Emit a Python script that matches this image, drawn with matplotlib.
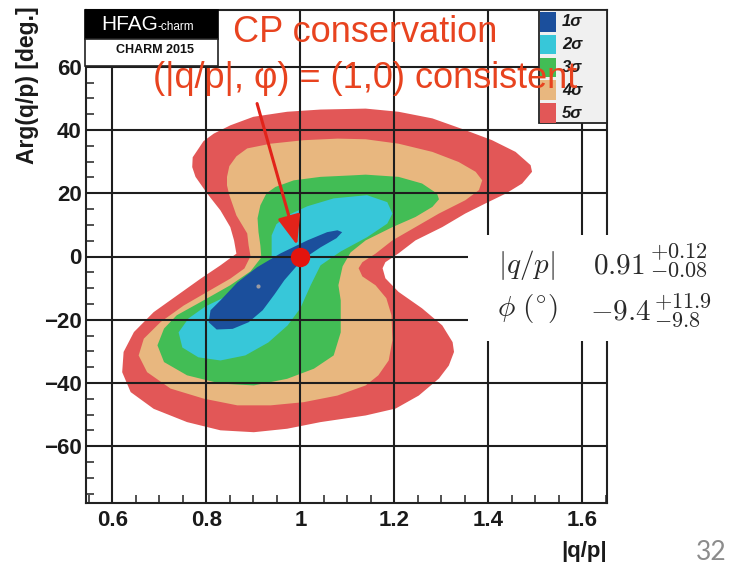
import matplotlib
matplotlib.use("Agg")
import matplotlib.pyplot as plt
from matplotlib.patches import Rectangle
from matplotlib.ticker import MultipleLocator

plt.rcParams["mathtext.fontset"] = "cm"

# Confidence-region outlines in the (|q/p|, Arg(q/p) [deg.]) plane
sig5_x = [0.770, 0.771, 0.781, 0.794, 0.816, 0.851, 0.900, 0.972, 1.043, 1.139,
          1.209, 1.281, 1.351, 1.408, 1.458, 1.490, 1.493, 1.472, 1.437, 1.394,
          1.351, 1.302, 1.245, 1.209, 1.181, 1.175, 1.181, 1.209, 1.259, 1.302,
          1.324, 1.327, 1.316, 1.295, 1.252, 1.203, 1.139, 1.043, 0.972, 0.901,
          0.830, 0.759, 0.688, 0.639, 0.621, 0.624, 0.646, 0.688, 0.738, 0.788,
          0.830, 0.864, 0.859, 0.851, 0.830, 0.802, 0.777]
sig5_y = [28.3, 31.4, 33.6, 36.5, 38.9, 41.5, 44.2, 45.8, 46.5, 46.8,
          45.8, 43.7, 40.0, 36.8, 33.1, 28.9, 26.8, 23.1, 19.9, 16.8,
          13.6, 9.3, 5.1, 1.0, -1.8, -3.7, -6.9, -11.2, -16.4, -21.8,
          -27.1, -30.2, -34.5, -38.6, -44.0, -48.1, -50.3, -52.4, -54.5, -55.6,
          -55.0, -52.4, -48.2, -42.9, -36.6, -30.2, -23.9, -17.6, -12.3, -7.0,
          -2.8, 0.9, 5.1, 9.3, 14.6, 19.9, 25.2]

sig4_x = [0.844, 0.849, 0.864, 0.887, 0.937, 1.007, 1.079, 1.139, 1.209, 1.281,
          1.337, 1.373, 1.387, 1.380, 1.351, 1.295, 1.245, 1.196, 1.160, 1.132,
          1.124, 1.132, 1.160, 1.183, 1.194, 1.196, 1.188, 1.166, 1.139, 1.079,
          1.007, 0.937, 0.866, 0.795, 0.724, 0.674, 0.656, 0.667, 0.703, 0.752,
          0.802, 0.851, 0.881, 0.894, 0.890, 0.887, 0.864, 0.849, 0.844]
sig4_y = [25.2, 28.6, 31.7, 34.2, 35.7, 36.8, 37.3, 37.1, 35.7, 33.1,
          29.9, 26.8, 24.1, 21.0, 17.8, 13.6, 9.3, 5.1, 0.9, -1.8,
          -3.7, -6.3, -9.1, -13.2, -18.6, -26.5, -32.9, -37.6, -40.8, -44.0,
          -46.1, -47.1, -47.1, -45.0, -41.8, -36.6, -31.3, -26.0, -20.7, -15.5,
          -11.2, -7.0, -3.8, 0.1, 3.5, 7.3, 13.0, 19.4, 22.5]

sig3_x = [0.909, 0.915, 0.928, 0.947, 0.986, 1.043, 1.114, 1.139, 1.209, 1.259,
          1.291, 1.295, 1.281, 1.245, 1.196, 1.139, 1.107, 1.090, 1.081, 1.086,
          1.086, 1.071, 1.029, 0.972, 0.901, 0.830, 0.759, 0.710, 0.696, 0.710,
          0.737, 0.788, 0.851, 0.894, 0.917, 0.915, 0.911]
sig3_y = [12.1, 16.2, 20.0, 22.0, 24.1, 25.2, 25.7, 25.9, 25.2, 23.1,
          19.9, 18.1, 15.7, 12.5, 9.3, 5.1, 1.3, -3.1, -9.1, -13.9,
          -24.0, -31.3, -35.5, -38.7, -40.8, -40.2, -37.6, -33.4, -28.1, -22.8,
          -18.6, -14.4, -9.1, -4.7, -0.3, 3.5, 7.7]

sig2_x = [0.939, 0.915, 0.890, 0.847, 0.798, 0.762, 0.741, 0.749, 0.783, 0.830,
          0.883, 0.932, 0.973, 1.000, 1.022, 1.043, 1.086, 1.142, 1.185, 1.196,
          1.185, 1.142, 1.071, 1.015, 0.973, 0.949, 0.939, 0.939]
sig2_y = [-0.6, -4.7, -8.5, -12.3, -15.8, -19.6, -24.0, -28.8, -31.9, -32.9,
          -31.3, -27.2, -21.8, -16.4, -9.1, -2.8, 1.6, 6.1, 10.4, 13.6,
          17.2, 19.4, 18.4, 15.9, 13.0, 10.2, 6.7, 3.5]

sig1_x = [1.089, 1.077, 1.043, 1.015, 0.990, 0.966, 0.945, 0.920, 0.890, 0.856,
          0.822, 0.805, 0.809, 0.830, 0.866, 0.908, 0.958, 1.015, 1.057, 1.079]
sig1_y = [7.7, 5.8, 2.9, 0.1, -3.4, -7.5, -12.0, -17.0, -20.8, -22.9,
          -23.1, -20.8, -17.0, -13.9, -8.2, -3.4, 1.0, 5.1, 7.7, 8.3]

sigma_labels = ["1σ", "2σ", "3σ", "4σ", "5σ"]
sigma_colors = ["#1b4f9c", "#37c7d9", "#42bd55", "#e8b77f", "#e25757"]

# Fit result and the CP-conserving point
qp_best, qp_up, qp_dn = 0.91, 0.12, 0.08
phi_best, phi_up, phi_dn = -9.4, 11.9, 9.8
cp_point = (1.0, 0.0)
arrow_tail = (0.908, 48.4)

x_ticks = [0.6, 0.8, 1.0, 1.2, 1.4, 1.6]
x_tick_labels = ["0.6", "0.8", "1", "1.2", "1.4", "1.6"]
y_ticks = [-60, -40, -20, 0, 20, 40, 60]
y_tick_labels = ["−60", "−40", "−20", "0", "20", "40", "60"]

W, H = 734, 565


def fx(px):
    return px / W


def fy(py):
    return 1 - py / H


fig = plt.figure(figsize=(W / 100, H / 100), dpi=100)
fig.patch.set_facecolor("white")
ax = fig.add_axes([fx(86), fy(503), (607 - 86) / W, (503 - 10) / H])

regions = [(sig5_x, sig5_y), (sig4_x, sig4_y), (sig3_x, sig3_y),
           (sig2_x, sig2_y), (sig1_x, sig1_y)]
for (xs, ys), col in zip(regions, sigma_colors[::-1]):
    ax.fill(xs, ys, color=col, lw=0, zorder=1)

ax.set_xlim(0.544, 1.6525)
ax.set_ylim(-78, 78)
ax.set_xticks(x_ticks)
ax.set_xticklabels(x_tick_labels)
ax.set_yticks(y_ticks)
ax.set_yticklabels(y_tick_labels)
ax.xaxis.set_minor_locator(MultipleLocator(0.05))
ax.yaxis.set_minor_locator(MultipleLocator(5))
ax.tick_params(which="both", direction="in", top=False, right=False, color="#222222")
ax.tick_params(axis="x", which="major", length=0, pad=5)
ax.tick_params(axis="y", which="major", length=0, pad=3)
ax.tick_params(which="minor", length=5.8, width=1.1)
for lab in ax.get_xticklabels() + ax.get_yticklabels():
    lab.set_fontfamily("Liberation Sans")
    lab.set_fontweight("bold")
    lab.set_fontsize(16)
    lab.set_color("#1a1a1a")
ax.set_axisbelow(False)
ax.grid(True, which="major", color="#1e1e1e", lw=1.5)
for sp in ax.spines.values():
    sp.set_linewidth(1.5)
    sp.set_color("#222222")

# best-fit point and the CP-conserving point
ax.plot(qp_best, phi_best, "o", ms=3, color="#9a9aa2", mec="none", zorder=4)
ax.plot(*cp_point, "o", ms=14, color="#e3140e", mec="none", zorder=5)
ax.annotate("", xy=cp_point, xytext=arrow_tail,
            arrowprops=dict(arrowstyle="-|>,head_length=0.9,head_width=0.35",
                            color="#e2231a", lw=2.2, shrinkA=0, shrinkB=8.5,
                            mutation_scale=20),
            zorder=6)

# annotation text
red_txt = "#e8431f"
fig.text(fx(365), fy(41.7), "CP conservation", ha="center", va="baseline",
         fontsize=26, color=red_txt, family=["Liberation Sans", "DejaVu Sans"], zorder=8)
fig.text(fx(365), fy(87.5), "(|q/p|, φ) = (1,0) consistent", ha="center", va="baseline",
         fontsize=26, color=red_txt, family=["Liberation Sans", "DejaVu Sans"], zorder=8)

# HFAG logo box
fig.add_artist(Rectangle((fx(85), fy(39)), (218 - 85) / W, (39 - 10) / H,
                         transform=fig.transFigure, fc="black", ec="black", lw=1.2, zorder=5))
fig.add_artist(Rectangle((fx(85), fy(66)), (218 - 85) / W, (66 - 39) / H,
                         transform=fig.transFigure, fc="white", ec="#222222", lw=1.2, zorder=5))
fig.text(fx(158), fy(30), "HFAG", ha="right", va="baseline", color="white",
         fontsize=15, family="Liberation Sans", zorder=6)
fig.text(fx(158), fy(30), "-charm", ha="left", va="baseline", color="white",
         fontsize=8.5, family="Liberation Sans", zorder=6)
fig.text(fx(155), fy(53), "CHARM 2015", ha="center", va="baseline", color="#111111",
         fontsize=9, weight="bold", family="Liberation Sans", zorder=6)

# sigma legend
fig.add_artist(Rectangle((fx(539), fy(123)), (607 - 539) / W, (123 - 10) / H,
                         transform=fig.transFigure, fc="#f0f0f0", ec="#222222", lw=1.3, zorder=5))
for i, (lab, col) in enumerate(zip(sigma_labels, sigma_colors)):
    top = 12 + i * 22.8
    fig.add_artist(Rectangle((fx(540), fy(top + 19.5)), 16 / W, 19.5 / H,
                             transform=fig.transFigure, fc=col, ec="none", zorder=6))
    fig.text(fx(562), fy(top + 10), lab, ha="left", va="center", fontsize=12,
             weight="bold", style="italic", family="Liberation Sans", color="#1a1a1a", zorder=6)

# fit-result box
fig.add_artist(Rectangle((fx(468), fy(341)), (734 - 468) / W, (341 - 235) / H,
                         transform=fig.transFigure, fc="white", ec="none", zorder=5))
stat_col = "#2a2a2a"
fig.text(fx(498), fy(273), r"$|q/p|$", fontsize=21, va="baseline", color=stat_col, zorder=6)
fig.text(fx(593), fy(273), r"$%.2f$" % qp_best, fontsize=21, va="baseline", color=stat_col, zorder=6)
fig.text(fx(650), fy(258), r"$+%.2f$" % qp_up, fontsize=16, va="baseline", color=stat_col, zorder=6)
fig.text(fx(650), fy(277), r"$-%.2f$" % qp_dn, fontsize=16, va="baseline", color=stat_col, zorder=6)
fig.text(fx(497), fy(316), r"$\phi\ (^{\circ})$", fontsize=21, va="baseline", color=stat_col, zorder=6)
fig.text(fx(590), fy(320), r"$%.1f$" % phi_best, fontsize=21, va="baseline", color=stat_col, zorder=6)
fig.text(fx(654), fy(308), r"$+%.1f$" % phi_up, fontsize=16, va="baseline", color=stat_col, zorder=6)
fig.text(fx(654), fy(327), r"$-%.1f$" % phi_dn, fontsize=16, va="baseline", color=stat_col, zorder=6)

# axis titles
fig.text(fx(28), fy(6), "Arg(q/p) [deg.]", rotation=90, ha="center", va="top",
         fontsize=16.5, weight="bold", family="Liberation Sans", color="#1a1a1a")
fig.text(fx(607), fy(557), "|q/p|", ha="right", va="baseline",
         fontsize=16, weight="bold", family="Liberation Sans", color="#1a1a1a")

# slide number
fig.text(fx(727), fy(560), "32", ha="right", va="baseline", fontsize=19,
         color="#8c8c8c", family="Lato")

fig.savefig("out.png", dpi=100)
